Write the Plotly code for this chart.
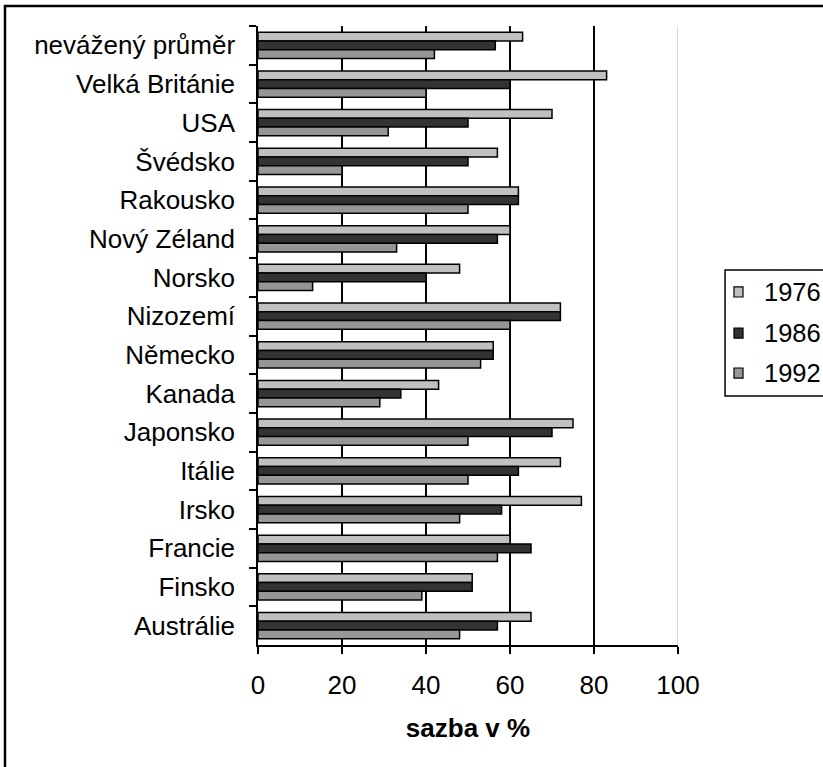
import plotly.graph_objects as go

categories = ["nevážený průměr", "Velká Británie", "USA", "Švédsko", "Rakousko",
              "Nový Zéland", "Norsko", "Nizozemí", "Německo", "Kanada",
              "Japonsko", "Itálie", "Irsko", "Francie", "Finsko", "Austrálie"]
v1976 = [63, 83, 70, 57, 62, 60, 48, 72, 56, 43, 75, 72, 77, 60, 51, 65]
v1986 = [56.5, 60, 50, 50, 62, 57, 40, 72, 56, 34, 70, 62, 58, 65, 51, 57]
v1992 = [42, 40, 31, 20, 50, 33, 13, 60, 53, 29, 50, 50, 48, 57, 39, 48]
series_names = ["1976", "1986", "1992"]
series_colors = ["#C0C0C0", "#333333", "#969696"]
x_ticks = [0, 20, 40, 60, 80, 100]

FONT = "Liberation Sans, Arial, sans-serif"
fig = go.Figure()
for name, vals, col in zip(series_names, [v1976, v1986, v1992], series_colors):
    fig.add_trace(go.Bar(y=categories, x=vals, name=name, orientation="h",
                         marker=dict(color=col, line=dict(color="black", width=1.5))))

# custom legend (box cut off by the right edge, as in the reference)
shapes = [
    dict(type="line", xref="x", yref="paper", x0=100, x1=100, y0=0, y1=1,
         line=dict(color="#d9d9d9", width=2), layer="above"),
    dict(type="rect", xref="paper", yref="paper", x0=-0.6024, x1=2, y0=-1, y1=1.0323,
         line=dict(color="black", width=2.5)),
    dict(type="rect", xref="paper", yref="paper", x0=1.112, x1=1.5, y0=0.4023, y1=0.6058,
         line=dict(color="black", width=1.5)),
]
annotations = []
legend_y = [0.5703, 0.5040, 0.4394]
for name, col, ly in zip(series_names, series_colors, legend_y):
    shapes.append(dict(type="rect", xref="paper", yref="paper", x0=1.1333, x1=1.1548,
                       y0=ly - 0.0081, y1=ly + 0.0081, fillcolor=col,
                       line=dict(color="black", width=1.2)))
    annotations.append(dict(text=name, xref="paper", yref="paper", x=1.2, y=ly,
                            xanchor="left", yanchor="middle", showarrow=False,
                            font=dict(size=25.5)))

fig.update_layout(
    width=823, height=767,
    margin=dict(l=258, r=145, t=26, b=122, autoexpand=False),
    paper_bgcolor="white", plot_bgcolor="white",
    barmode="group", bargap=0.32, bargroupgap=0,
    font=dict(family=FONT, size=26, color="black"),
    showlegend=False,
    xaxis=dict(range=[0, 100], tickvals=x_ticks, showgrid=True, gridcolor="black",
               gridwidth=1.5, showline=True, linecolor="black", linewidth=1.5,
               ticks="outside", ticklen=7, tickwidth=1.5, tickcolor="black",
               zeroline=False, ticklabelstandoff=9,
               title=dict(text="<b>sazba v %</b>", font=dict(size=26), standoff=20)),
    yaxis=dict(autorange="reversed", showline=True, linecolor="black", linewidth=1.5,
               ticks="outside", ticklen=7, tickwidth=1.5, tickcolor="black",
               tickson="boundaries", showgrid=False, ticklabelstandoff=16),
    shapes=shapes,
    annotations=annotations,
)

fig.write_html("out.html", config={"displayModeBar": False},
               post_script="document.body.style.margin='0';")
